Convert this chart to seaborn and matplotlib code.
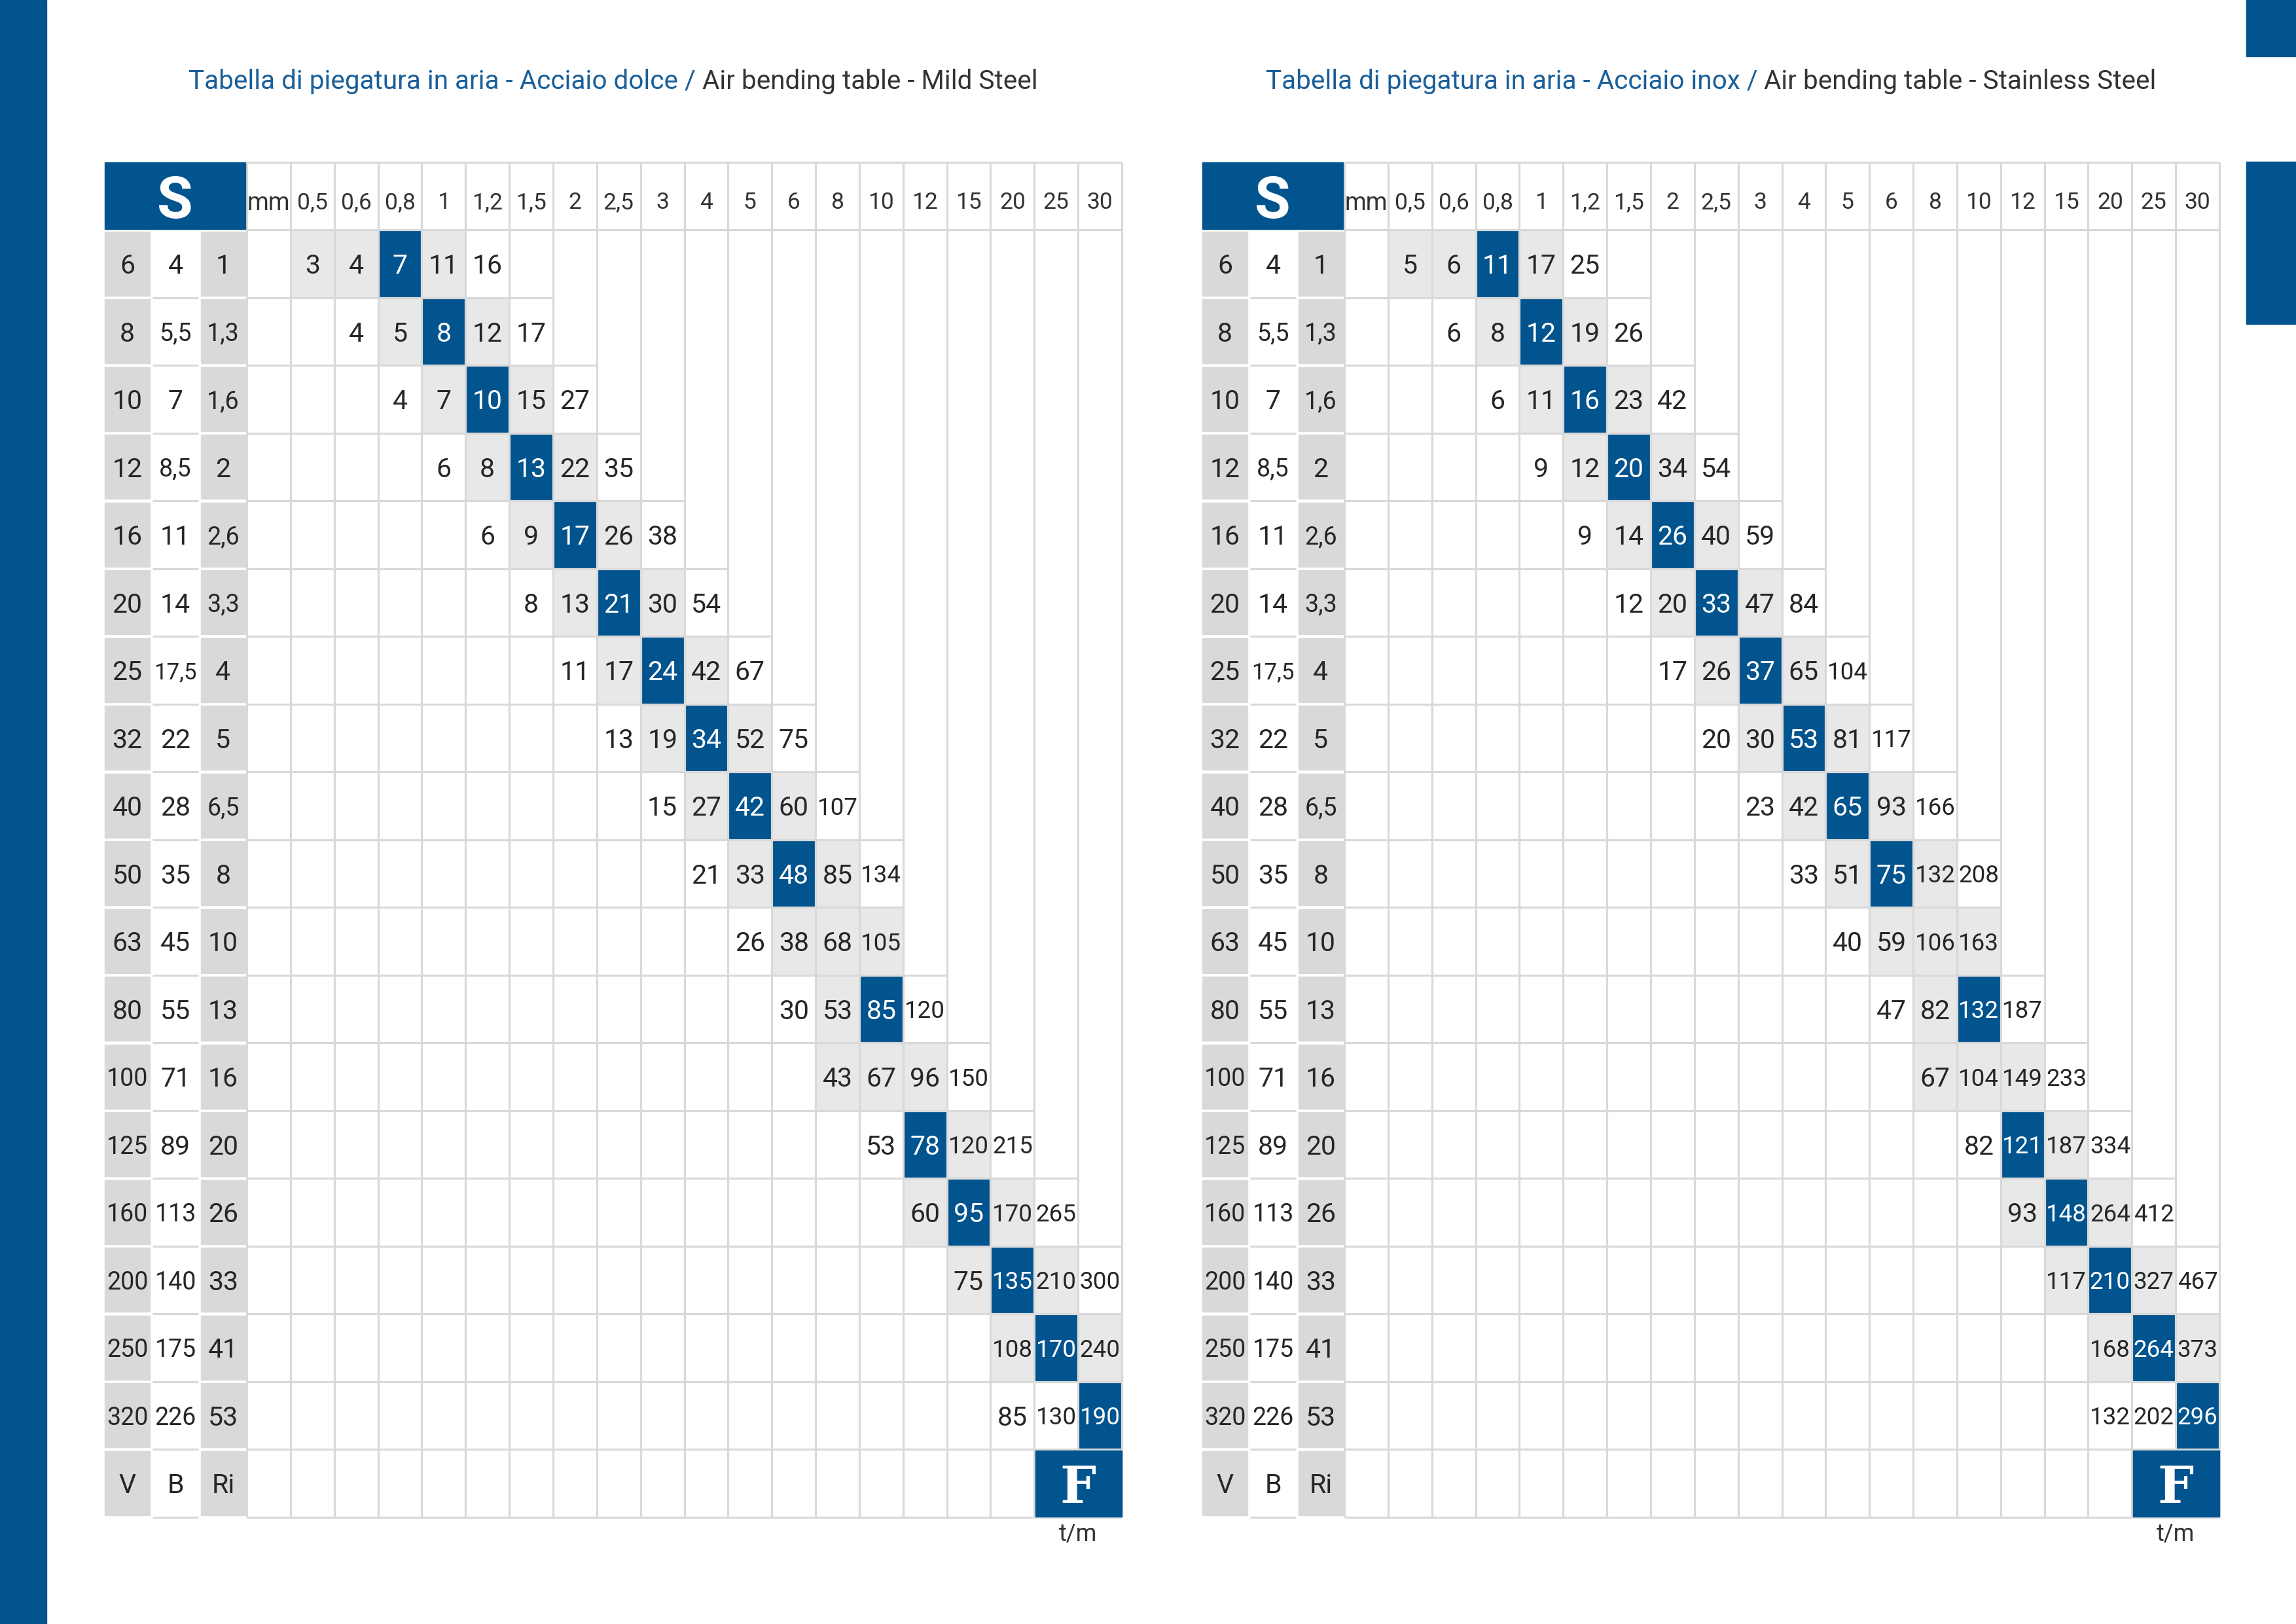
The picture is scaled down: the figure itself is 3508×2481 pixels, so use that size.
import numpy as np
import matplotlib
matplotlib.use('Agg')
import matplotlib.pyplot as plt
import seaborn as sns
from matplotlib.colors import ListedColormap
from matplotlib.patches import Rectangle
from matplotlib.offsetbox import TextArea, HPacker, AnnotationBbox

# ---------------------------------------------------------------
# data read off the two tables
thickness = ['0,5', '0,6', '0,8', '1', '1,2', '1,5', '2', '2,5', '3', '4',
             '5', '6', '8', '10', '12', '15', '20', '25', '30']
V_vals = ['6', '8', '10', '12', '16', '20', '25', '32', '40', '50', '63', '80',
          '100', '125', '160', '200', '250', '320']
B_vals = ['4', '5,5', '7', '8,5', '11', '14', '17,5', '22', '28', '35', '45',
          '55', '71', '89', '113', '140', '175', '226']
Ri_vals = ['1', '1,3', '1,6', '2', '2,6', '3,3', '4', '5', '6,5', '8', '10',
           '13', '16', '20', '26', '33', '41', '53']
# index (in thickness) of the first value of each row
first_col = [0, 1, 2, 3, 4, 5, 6, 7, 8, 9, 10, 11, 12, 13, 14, 15, 16, 16]

mild = [[3, 4, 7, 11, 16], [4, 5, 8, 12, 17], [4, 7, 10, 15, 27],
        [6, 8, 13, 22, 35], [6, 9, 17, 26, 38], [8, 13, 21, 30, 54],
        [11, 17, 24, 42, 67], [13, 19, 34, 52, 75], [15, 27, 42, 60, 107],
        [21, 33, 48, 85, 134], [26, 38, 68, 105], [30, 53, 85, 120],
        [43, 67, 96, 150], [53, 78, 120, 215], [60, 95, 170, 265],
        [75, 135, 210, 300], [108, 170, 240], [85, 130, 190]]
inox = [[5, 6, 11, 17, 25], [6, 8, 12, 19, 26], [6, 11, 16, 23, 42],
        [9, 12, 20, 34, 54], [9, 14, 26, 40, 59], [12, 20, 33, 47, 84],
        [17, 26, 37, 65, 104], [20, 30, 53, 81, 117], [23, 42, 65, 93, 166],
        [33, 51, 75, 132, 208], [40, 59, 106, 163], [47, 82, 132, 187],
        [67, 104, 149, 233], [82, 121, 187, 334], [93, 148, 264, 412],
        [117, 210, 327, 467], [168, 264, 373], [132, 202, 296]]
# cell shading per row: 0 white, 1 light grey, 2 blue
shades = ['11210', '01210', '01210', '01210', '01210', '01210', '01210',
          '01210', '01210', '01210', '0111', '0120', '1110', '0210', '1210',
          '1210', '121', '002']

titles = [('Tabella di piegatura in aria - Acciaio dolce /', 'Air bending table - Mild Steel'),
          ('Tabella di piegatura in aria - Acciaio inox /', 'Air bending table - Stainless Steel')]

# ---------------------------------------------------------------
BLUE = '#02548f'
GREY_CELL = '#e8e8e8'
GREY_COL = '#d9d9d9'
LINE = '#d9d9d9'
TXT = '#262626'
TITLE_BLUE = '#1a5f9a'

W, H = 3508, 2481
sns.set_style('white')
plt.rcParams['font.family'] = ['Roboto', 'DejaVu Sans']

fig = plt.figure(figsize=(W / 100, H / 100), dpi=100)
bg = fig.add_axes([0, 0, 1, 1])
bg.set_xlim(0, W)
bg.set_ylim(H, 0)
bg.axis('off')

# page decorations
bg.add_patch(Rectangle((0, 0), 71, H, color=BLUE))
bg.add_patch(Rectangle((3432, 0), 76, 86, color=BLUE))
bg.add_patch(Rectangle((3432, 247), 76, 248, color=BLUE))

CW = 66.85   # column width px
RH = 103.5   # row height px
TOP = 351    # top of first data row px


def draw_table(x0, vals, title):
    n_rows = len(V_vals)
    n_cols = len(thickness) + 1
    shade = np.zeros((n_rows, n_cols))
    labels = np.full((n_rows, n_cols), '', dtype=object)
    last = []
    for i, (row, codes, s) in enumerate(zip(vals, shades, first_col)):
        for k, (v, c) in enumerate(zip(row, codes)):
            shade[i, s + k + 1] = int(c)
            labels[i, s + k + 1] = str(v)
        last.append(s + len(row))

    ax = fig.add_axes([x0 / W, 1 - (TOP + n_rows * RH) / H,
                       n_cols * CW / W, n_rows * RH / H])
    sns.heatmap(shade, ax=ax, cmap=ListedColormap(['white', GREY_CELL, BLUE]),
                vmin=-0.5, vmax=2.5, cbar=False, annot=labels, fmt='',
                xticklabels=False, yticklabels=False,
                annot_kws={'fontsize': 29.5})
    for t in ax.texts:
        t.set_va('center_baseline')
        if len(t.get_text()) >= 3:
            t.set_fontsize(26.5)

    lw = 2.3
    # vertical grid
    ax.vlines(np.arange(n_cols + 1), -1, n_rows + 1, colors=LINE, lw=lw,
              clip_on=False, zorder=3)
    # horizontal grid (staircase)
    ax.hlines([-1, 0, n_rows, n_rows + 1], 0, n_cols, colors=LINE, lw=lw,
              clip_on=False, zorder=3)
    for i in range(1, n_rows):
        ax.hlines(i, 0, last[i] + 1, colors=LINE, lw=lw, clip_on=False, zorder=3)

    # left columns V, B, Ri
    lefts = [(-3.25, -2.21, V_vals + ['V'], GREY_COL),
             (-2.15, -1.11, B_vals + ['B'], 'white'),
             (-1.05, -0.03, Ri_vals + ['Ri'], GREY_COL)]
    for xa, xb, labs, fc in lefts:
        for i, lab in enumerate(labs):
            if fc != 'white':
                ax.add_patch(Rectangle((xa, i + 0.025), xb - xa, 0.95, color=fc,
                                       clip_on=False, zorder=2))
            else:
                ax.hlines(i + 1, xa, xb, colors=LINE, lw=lw, clip_on=False, zorder=3)
            fs = 29.5 if len(lab) < 3 else (27 if len(lab) == 3 else 25)
            ax.text((xa + xb) / 2, i + 0.5, lab, ha='center', va='center_baseline',
                    fontsize=fs, color=TXT, clip_on=False, zorder=5)

    # header
    ax.add_patch(Rectangle((-3.25, -1.0), 3.22, 0.99, color=BLUE, clip_on=False, zorder=4))
    ax.text(-1.64, -0.5, 'S', ha='center', va='center_baseline', fontsize=64,
            fontweight='bold', color='white', clip_on=False, zorder=5)
    ax.text(0.5, -0.43, 'mm', ha='center', va='center_baseline', fontsize=27,
            color='#333333', clip_on=False, zorder=5)
    for j, lab in enumerate(thickness):
        ax.text(j + 1.5, -0.43, lab, ha='center', va='center_baseline', fontsize=25.5,
                color='#333333', clip_on=False, zorder=5)

    # F box
    ax.add_patch(Rectangle((18.02, n_rows + 0.02), 1.98, 0.98, color=BLUE,
                           clip_on=False, zorder=4))
    ax.text(19, n_rows + 0.5, 'F', ha='center', va='center_baseline', fontsize=56,
            fontweight='bold', family='DejaVu Serif', color='white',
            clip_on=False, zorder=5)
    ax.text(19, n_rows + 1.08, 't/m', ha='center', va='top', fontsize=26,
            color='#333333', clip_on=False, zorder=5)

    # title
    ta = TextArea(title[0], textprops=dict(color=TITLE_BLUE, fontsize=29.2))
    tb = TextArea(title[1], textprops=dict(color='#333333', fontsize=29.2))
    pack = HPacker(children=[ta, tb], align='baseline', pad=0, sep=7)
    cx = x0 - 3.25 * CW + (n_cols + 3.25) * CW / 2
    bg.add_artist(AnnotationBbox(pack, (cx, 124), xycoords='data', frameon=False,
                                 box_alignment=(0.5, 0.5)))


draw_table(377, mild, titles[0])
draw_table(2054, inox, titles[1])

fig.savefig('out.png', dpi=100, facecolor='white')
